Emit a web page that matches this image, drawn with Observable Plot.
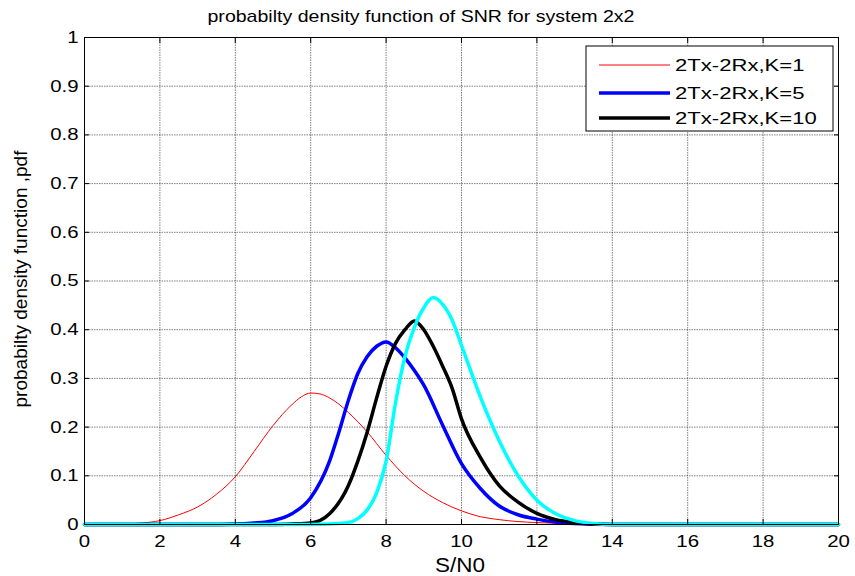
<!DOCTYPE html>
<html>
<head>
<meta charset="utf-8">
<script src="https://cdn.jsdelivr.net/npm/d3@7"></script>
<script src="https://cdn.jsdelivr.net/npm/@observablehq/plot@0.6"></script>
<style>
  html, body { margin: 0; padding: 0; background: #fff; }
  #chart { position: relative; width: 855px; height: 576px; }
</style>
</head>
<body>
<div id="chart"></div>
<script>
const titleText = "probabilty density function of SNR for system 2x2";
const xLabelText = "S/N0";
const yLabelText = "probabilty density function ,pdf";

const xTicks = [0, 2, 4, 6, 8, 10, 12, 14, 16, 18, 20];
const yTicks = [0, 0.1, 0.2, 0.3, 0.4, 0.5, 0.6, 0.7, 0.8, 0.9, 1];

const seriesNames = ["2Tx-2Rx,K=1", "2Tx-2Rx,K=5", "2Tx-2Rx,K=10", "2Tx-2Rx,K=20"];
const seriesColors = ["#ff0000", "#0000ff", "#000000", "#00ffff"];
const seriesWidths = [1, 3.5, 3.5, 3.5];
const legendShown = [true, true, true, false];

// K=1 (red)
const xK1 = [0, 1, 1.5, 2, 2.5, 3, 3.5, 4, 4.5, 5, 5.5, 5.75, 6, 6.25, 6.5, 6.75, 7, 7.5, 8, 8.5, 9, 9.5, 10, 10.5, 11, 11.5, 12, 13, 14, 15, 20];
const yK1 = [0, 0.001, 0.003, 0.008, 0.02, 0.036, 0.062, 0.098, 0.15, 0.203, 0.246, 0.262, 0.27, 0.268, 0.26, 0.247, 0.23, 0.19, 0.142, 0.1, 0.068, 0.045, 0.028, 0.016, 0.01, 0.006, 0.004, 0.0015, 0.0005, 0, 0];
// K=5 (blue)
const xK5 = [0, 3.5, 4, 4.5, 5, 5.5, 6, 6.5, 6.75, 7, 7.25, 7.5, 7.75, 8, 8.25, 8.5, 8.75, 9, 9.5, 10, 10.5, 11, 11.5, 12, 12.5, 13, 14, 20];
const yK5 = [0, 0, 0.001, 0.003, 0.008, 0.022, 0.055, 0.13, 0.19, 0.255, 0.31, 0.345, 0.366, 0.375, 0.363, 0.342, 0.316, 0.286, 0.204, 0.125, 0.074, 0.038, 0.02, 0.011, 0.005, 0.002, 0, 0];
// K=10 (black)
const xK10 = [0, 5, 5.5, 6, 6.5, 7, 7.25, 7.5, 7.75, 8, 8.25, 8.5, 8.75, 9, 9.25, 9.5, 9.75, 10, 10.5, 11, 11.5, 12, 12.5, 13, 13.5, 14, 20];
const yK10 = [0, 0, 0.001, 0.003, 0.022, 0.08, 0.13, 0.19, 0.26, 0.325, 0.372, 0.4, 0.418, 0.4, 0.366, 0.325, 0.28, 0.217, 0.138, 0.08, 0.046, 0.023, 0.01, 0.004, 0.001, 0, 0];
// K=20 (cyan)
const xK20 = [0, 6, 6.5, 7, 7.25, 7.5, 7.75, 8, 8.25, 8.5, 8.75, 9, 9.25, 9.5, 9.75, 10, 10.5, 11, 11.5, 12, 12.5, 13, 13.5, 14, 20];
const yK20 = [0, 0, 0.001, 0.004, 0.012, 0.03, 0.065, 0.13, 0.25, 0.345, 0.405, 0.445, 0.466, 0.452, 0.42, 0.368, 0.262, 0.172, 0.1, 0.05, 0.022, 0.008, 0.002, 0, 0];

const xs = [xK1, xK5, xK10, xK20];
const ys = [yK1, yK5, yK10, yK20];

const data = [];
seriesNames.forEach((name, i) => {
  xs[i].forEach((x, j) => data.push({series: name, idx: i, x, y: ys[i][j]}));
});

const W = 855, H = 576;
const mL = 84, mR = 17, mT = 37, mB = 52;
const font = "'Liberation Sans', Arial, sans-serif";

const lineMarks = seriesNames.map((name, i) =>
  Plot.line(data.filter(d => d.idx === i), {
    x: "x", y: "y", stroke: seriesColors[i], strokeWidth: seriesWidths[i], curve: "monotone-x"
  })
);

const plot = Plot.plot({
  width: W, height: H,
  marginLeft: mL, marginRight: mR, marginTop: mT, marginBottom: mB,
  style: {fontFamily: font, fontSize: "16px", background: "#fff", color: "#000", overflow: "visible"},
  x: {domain: [0, 20], ticks: xTicks, label: null},
  y: {domain: [0, 1], ticks: yTicks, label: null},
  marks: [
    Plot.gridX(xTicks.slice(1, -1), {stroke: "#000", strokeOpacity: 0.5, strokeDasharray: "1.5,1"}),
    Plot.gridY(yTicks.slice(1, -1), {stroke: "#000", strokeOpacity: 0.5, strokeDasharray: "1.5,1"}),
    ...lineMarks,
    Plot.frame({stroke: "#000", strokeWidth: 1}),
    Plot.axisX(xTicks, {anchor: "bottom", tickSize: 0, tickPadding: 10, fontSize: 17, tickFormat: d => String(d), label: null}),
    Plot.axisX(xTicks, {anchor: "bottom", tickSize: -5, tickFormat: () => "", label: null}),
    Plot.axisX(xTicks, {anchor: "top", tickSize: -5, tickFormat: () => "", label: null}),
    Plot.axisY(yTicks, {anchor: "left", tickSize: 0, tickPadding: 6, fontSize: 17, tickFormat: d => String(d), label: null}),
    Plot.axisY(yTicks, {anchor: "left", tickSize: -5, tickFormat: () => "", label: null}),
    Plot.axisY(yTicks, {anchor: "right", tickSize: -5, tickFormat: () => "", label: null})
  ]
});

document.getElementById("chart").appendChild(plot);

// widen tick labels horizontally (reference glyphs are wider than Arial)
const SX = 1.2;
plot.querySelectorAll('g[aria-label$="tick label"] text').forEach(t => {
  const tr = t.getAttribute("transform") || "";
  t.setAttribute("transform", tr + ` scale(${SX},1)`);
});

const svg = d3.select(plot);
svg.append("text")
  .attr("x", 421).attr("y", 22)
  .attr("text-anchor", "middle")
  .attr("textLength", 427).attr("lengthAdjust", "spacingAndGlyphs")
  .style("font-family", font).style("font-size", "17px").attr("fill", "#000")
  .text(titleText);
svg.append("text")
  .attr("x", 460).attr("y", 572)
  .attr("text-anchor", "middle")
  .attr("textLength", 50).attr("lengthAdjust", "spacingAndGlyphs")
  .style("font-family", font).style("font-size", "20px").attr("fill", "#000")
  .text(xLabelText);
svg.append("text")
  .attr("transform", "translate(27,279) rotate(-90)")
  .attr("text-anchor", "middle")
  .attr("textLength", 257).attr("lengthAdjust", "spacingAndGlyphs")
  .style("font-family", font).style("font-size", "19px").attr("fill", "#000")
  .text(yLabelText);

// legend
const lg = svg.append("g");
lg.append("rect")
  .attr("x", 586).attr("y", 46).attr("width", 247).attr("height", 85)
  .attr("fill", "#fff").attr("stroke", "#000").attr("stroke-width", 1);
const rowY = [65, 93, 118];
seriesNames.forEach((name, i) => {
  if (!legendShown[i]) return;
  lg.append("line")
    .attr("x1", 599).attr("x2", 670).attr("y1", rowY[i]).attr("y2", rowY[i])
    .attr("stroke", seriesColors[i]).attr("stroke-width", seriesWidths[i]);
  lg.append("text")
    .attr("transform", `translate(675,${rowY[i]}) scale(1.3,1)`)
    .attr("text-anchor", "start").attr("dy", "0.36em")
    .style("font-family", font).style("font-size", "17px").attr("fill", "#000")
    .text(name);
});
</script>
</body>
</html>
